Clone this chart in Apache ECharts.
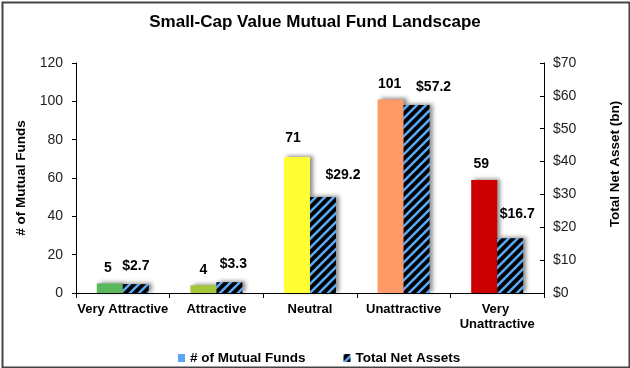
<!DOCTYPE html>
<html>
<head>
<meta charset="utf-8">
<script src="https://cdn.jsdelivr.net/npm/echarts@6/dist/echarts.min.js"></script>
<style>
html,body{margin:0;padding:0;background:#fff;}
#chart{width:630px;height:368px;}
</style>
</head>
<body>
<div id="chart"></div>
<script>
// ---- data ----
var categories = ['Very Attractive', 'Attractive', 'Neutral', 'Unattractive', 'Very Unattractive'];
var fundCounts = [5, 4, 71, 101, 59];
var netAssets = [2.7, 3.3, 29.2, 57.2, 16.7];
var leftTicks = [0, 20, 40, 60, 80, 100, 120];
var rightTicks = [0, 10, 20, 30, 40, 50, 60, 70];

// ---- styles ----
var barColors = ['#5cb85c', '#a4c639', '#ffff33', '#ff9966', '#cc0000'];
var fundLabelShift = [[-2, 0], [0, 0], [-4, -4], [-1, 0], [-3, -1]];
var assetLabelShift = [[0, -3], [4, -3], [20, -7], [17, -3], [7, -9]];

function hatch() {
  var s = 9;
  var c = document.createElement('canvas');
  c.width = s; c.height = s;
  var g = c.getContext('2d');
  g.fillStyle = '#000';
  g.fillRect(0, 0, s, s);
  g.strokeStyle = '#5aa8f5';
  g.lineWidth = 2.6;
  g.beginPath();
  for (var k = -1; k <= 1; k++) {
    g.moveTo(k * s - 1, s + 1);
    g.lineTo(k * s + s + 1, -1);
  }
  g.stroke();
  return c;
}
var hatchFill = { image: hatch(), repeat: 'repeat' };

var shadow = {
  shadowColor: 'rgba(0,0,0,0.45)',
  shadowBlur: 4,
  shadowOffsetX: 3,
  shadowOffsetY: -1
};

var FONT = '"Liberation Sans", Arial, sans-serif';

var chart = echarts.init(document.getElementById('chart'), null, { renderer: 'canvas' });
chart.setOption({
  animation: false,
  backgroundColor: '#fff',
  title: {
    text: 'Small-Cap Value Mutual Fund Landscape',
    left: 'center',
    top: 14,
    padding: 0,
    textStyle: { fontFamily: FONT, fontSize: 17, fontWeight: 'bold', color: '#000' }
  },
  legend: {
    left: 173,
    top: 346,
    itemWidth: 7,
    itemHeight: 8,
    itemGap: 38,
    icon: 'rect',
    textStyle: { fontFamily: FONT, fontSize: 13.5, fontWeight: 'bold', color: '#000' },
    data: [
      { name: '# of Mutual Funds', itemStyle: { color: '#5aa8f5' } },
      { name: 'Total Net Assets', itemStyle: { color: hatchFill } }
    ]
  },
  grid: { left: 76, right: 86, top: 63, bottom: 75, containLabel: false },
  xAxis: {
    type: 'category',
    data: categories,
    axisLine: { lineStyle: { color: '#000', width: 1 } },
    axisTick: { show: true, length: 5, lineStyle: { color: '#000' } },
    axisLabel: {
      interval: 0,
      margin: 9,
      width: 92,
      overflow: 'break',
      lineHeight: 15,
      fontFamily: FONT, fontSize: 13, fontWeight: 'bold', color: '#000'
    }
  },
  yAxis: [
    {
      type: 'value',
      min: 0, max: 120, interval: 20,
      name: '# of Mutual Funds',
      nameLocation: 'middle',
      nameRotate: 90,
      nameGap: 47,
      nameTextStyle: { fontFamily: FONT, fontSize: 13.5, fontWeight: 'bold', color: '#000' },
      axisLine: { show: true, lineStyle: { color: '#000' } },
      axisTick: { show: true, length: 4, lineStyle: { color: '#000' } },
      splitLine: { show: false },
      axisLabel: {
        margin: 13,
        fontFamily: FONT, fontSize: 14, color: '#222',
        customValues: leftTicks
      }
    },
    {
      type: 'value',
      min: 0, max: 70, interval: 10,
      position: 'right',
      name: 'Total Net Asset (bn)',
      nameLocation: 'middle',
      nameRotate: 90,
      nameGap: 64,
      nameTextStyle: { fontFamily: FONT, fontSize: 13.5, fontWeight: 'bold', color: '#000', padding: [0, 0, 0, 28] },
      axisLine: { show: true, lineStyle: { color: '#000' } },
      axisTick: { show: true, inside: true, length: 4, lineStyle: { color: '#000' } },
      splitLine: { show: false },
      axisLabel: {
        margin: 9,
        fontFamily: FONT, fontSize: 14, color: '#222',
        formatter: function (v) { return '$' + v; },
        customValues: rightTicks
      }
    }
  ],
  series: [
    {
      name: '# of Mutual Funds',
      type: 'bar',
      yAxisIndex: 0,
      barWidth: 26,
      barGap: '0%',
      itemStyle: Object.assign({ color: '#5aa8f5' }, shadow),
      data: fundCounts.map(function (v, i) {
        return {
          value: v,
          itemStyle: { color: barColors[i] },
          label: { offset: fundLabelShift[i] }
        };
      }),
      label: {
        show: true, position: 'top', distance: 8,
        fontFamily: FONT, fontSize: 14, fontWeight: 'bold', color: '#000'
      }
    },
    {
      name: 'Total Net Assets',
      type: 'bar',
      yAxisIndex: 1,
      barWidth: 26,
      barGap: '0%',
      itemStyle: Object.assign({ color: hatchFill }, shadow),
      data: netAssets.map(function (v, i) {
        return { value: v, label: { offset: assetLabelShift[i] } };
      }),
      label: {
        show: true, position: 'top', distance: 8,
        fontFamily: FONT, fontSize: 14, fontWeight: 'bold', color: '#000',
        formatter: function (p) { return '$' + p.value.toFixed(1); }
      }
    }
  ],
  graphic: [
    {
      type: 'rect',
      left: 0, top: 0,
      shape: { x: 1, y: 1, width: 627, height: 365 },
      style: { fill: 'none', stroke: '#444', lineWidth: 2 },
      silent: true
    }
  ]
});
</script>
</body>
</html>
